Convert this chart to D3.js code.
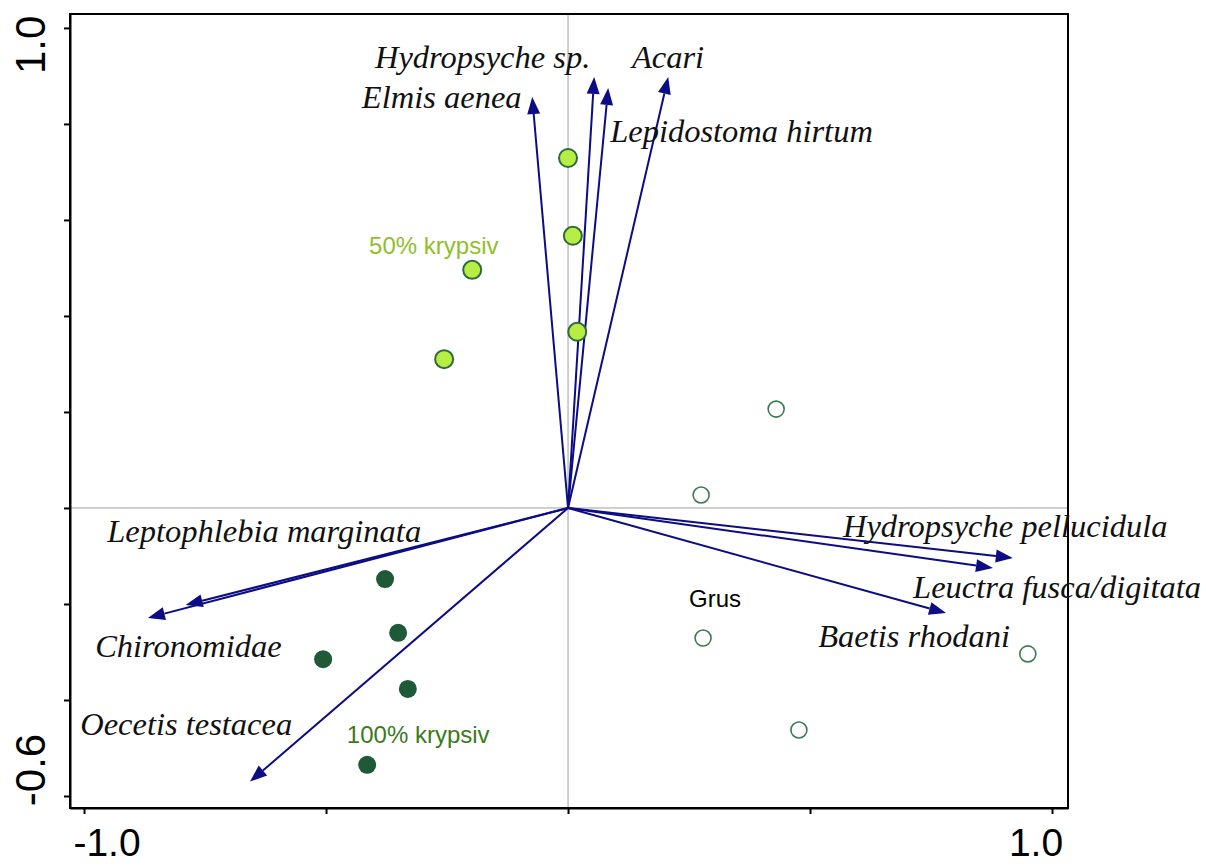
<!DOCTYPE html>
<html>
<head>
<meta charset="utf-8">
<script src="https://cdn.jsdelivr.net/npm/d3@7"></script>
<style>
  body { margin: 0; background: #fff; }
  svg { display: block; }
</style>
</head>
<body>
<div id="chart"></div>
<script>
// Species arrows (biplot scores)
const species = ['Elmis aenea', 'Hydropsyche sp.', 'Lepidostoma hirtum', 'Acari',
  'Hydropsyche pellucidula', 'Leuctra fusca/digitata', 'Baetis rhodani',
  'Leptophlebia marginata', 'Chironomidae', 'Oecetis testacea'];
const speciesX = [-0.074, 0.054, 0.083, 0.207, 0.919, 0.878, 0.781, -0.790, -0.868, -0.657];
const speciesY = [0.856, 0.898, 0.875, 0.898, -0.104, -0.125, -0.219, -0.202, -0.229, -0.570];
// label anchor (text start, baseline) in data units
const labelX = [-0.426, -0.399, 0.087, 0.132, 0.568, 0.713, 0.517, -0.952, -0.977, -1.008];
const labelY = [0.833, 0.917, 0.763, 0.917, -0.060, -0.188, -0.290, -0.071, -0.310, -0.473];

// Sample sites
const site50X = [0.000, 0.010, -0.198, 0.019, -0.256];
const site50Y = [0.729, 0.567, 0.496, 0.367, 0.310];
const site100X = [-0.378, -0.351, -0.506, -0.331, -0.415];
const site100Y = [-0.148, -0.260, -0.315, -0.377, -0.535];
const grusX = [0.430, 0.275, 0.279, 0.950, 0.477];
const grusY = [0.206, 0.027, -0.271, -0.304, -0.4625];

const groupNames = ['50% krypsiv', '100% krypsiv', 'Grus'];
const groupLabelX = [-0.411, -0.457, 0.250];
const groupLabelY = [0.529, -0.490, -0.206];

const xTicks = [-1.0, -0.5, 0, 0.5, 1.0];
const yTicks = [-0.6, -0.4, -0.2, 0, 0.2, 0.4, 0.6, 0.8, 1.0];
const xTickLabels = ['-1.0', '1.0'];
const yTickLabels = ['1.0', '-0.6'];

const width = 1206;
const height = 866;

const svg = d3.select('#chart').append('svg')
  .attr('width', width)
  .attr('height', height);

const x = d3.scaleLinear().domain([-1.029, 1.033]).range([70, 1068]);
const y = d3.scaleLinear().domain([-0.625, 1.029]).range([808, 14]);

// zero lines
svg.append('line')
  .attr('x1', x(0)).attr('x2', x(0)).attr('y1', y.range()[1]).attr('y2', y.range()[0])
  .attr('stroke', '#a0a0a0').attr('stroke-width', 1);
svg.append('line')
  .attr('x1', x.range()[0]).attr('x2', x.range()[1]).attr('y1', y(0)).attr('y2', y(0))
  .attr('stroke', '#a0a0a0').attr('stroke-width', 1);

// axes (ticks only)
const xAxis = d3.axisBottom(x).tickValues(xTicks).tickFormat('').tickSize(6).tickSizeOuter(0);
const yAxis = d3.axisLeft(y).tickValues(yTicks).tickFormat('').tickSize(6).tickSizeOuter(0);
svg.append('g').attr('transform', `translate(0, ${y.range()[0]})`).call(xAxis)
  .call((g) => g.selectAll('line, path').attr('stroke', '#000').attr('stroke-width', 2));
svg.append('g').attr('transform', `translate(${x.range()[0]}, 0)`).call(yAxis)
  .call((g) => g.selectAll('line, path').attr('stroke', '#000').attr('stroke-width', 2));

// frame
svg.append('rect')
  .attr('x', x.range()[0]).attr('y', y.range()[1])
  .attr('width', x.range()[1] - x.range()[0])
  .attr('height', y.range()[0] - y.range()[1])
  .attr('fill', 'none').attr('stroke', '#000').attr('stroke-width', 2);

// tick labels
const tickFont = 'Liberation Sans, Arial, sans-serif';
svg.selectAll('.xlab').data(xTickLabels).enter().append('text')
  .attr('x', (d, i) => x(+d) + (i === 0 ? 23 : -16))
  .attr('y', 856)
  .attr('text-anchor', 'middle')
  .attr('font-family', tickFont)
  .attr('font-size', 39)
  .attr('fill', '#000')
  .text((d) => d);
svg.selectAll('.ylab').data(yTickLabels).enter().append('text')
  .attr('transform', (d, i) => `translate(45, ${y(+d) + (i === 0 ? 17 : -26)}) rotate(-90)`)
  .attr('text-anchor', 'middle')
  .attr('font-family', tickFont)
  .attr('font-size', 42)
  .attr('fill', '#000')
  .text((d) => d);

// arrows
const arrowColor = '#0c0c84';
const arrows = svg.append('g');
species.forEach((name, i) => {
  const x0 = x(0); const y0 = y(0);
  const x1 = x(speciesX[i]); const y1 = y(speciesY[i]);
  const ang = Math.atan2(y1 - y0, x1 - x0);
  const len = 17; const half = 6.5;
  const bx = x1 - len * Math.cos(ang); const by = y1 - len * Math.sin(ang);
  arrows.append('line')
    .attr('x1', x0).attr('y1', y0).attr('x2', bx).attr('y2', by)
    .attr('stroke', arrowColor).attr('stroke-width', 2);
  arrows.append('path')
    .attr('d', `M${x1},${y1}L${bx + half * Math.sin(ang)},${by - half * Math.cos(ang)}`
      + `L${bx - half * Math.sin(ang)},${by + half * Math.cos(ang)}Z`)
    .attr('fill', arrowColor);
});

// species labels
svg.selectAll('.sp').data(species).enter().append('text')
  .attr('x', (d, i) => x(labelX[i]))
  .attr('y', (d, i) => y(labelY[i]))
  .attr('font-family', 'Liberation Serif, Times New Roman, serif')
  .attr('font-style', 'italic')
  .attr('font-size', 32.5)
  .attr('fill', '#111')
  .text((d) => d);

// sites
const r = 9;
svg.selectAll('.s50').data(site50X).enter().append('circle')
  .attr('cx', (d) => x(d)).attr('cy', (d, i) => y(site50Y[i])).attr('r', r)
  .attr('fill', '#b6ee44').attr('stroke', '#2f6a3c').attr('stroke-width', 2);
svg.selectAll('.s100').data(site100X).enter().append('circle')
  .attr('cx', (d) => x(d)).attr('cy', (d, i) => y(site100Y[i])).attr('r', r)
  .attr('fill', '#1e5a37');
svg.selectAll('.sgrus').data(grusX).enter().append('circle')
  .attr('cx', (d) => x(d)).attr('cy', (d, i) => y(grusY[i])).attr('r', r - 1)
  .attr('fill', '#fff').attr('stroke', '#3e7a55').attr('stroke-width', 1.6);

// group labels
const groupColors = ['#8fc02a', '#3b7a18', '#000'];
svg.selectAll('.glab').data(groupNames).enter().append('text')
  .attr('x', (d, i) => x(groupLabelX[i]))
  .attr('y', (d, i) => y(groupLabelY[i]))
  .attr('font-family', tickFont)
  .attr('font-size', 24)
  .attr('fill', (d, i) => groupColors[i])
  .text((d) => d);
</script>
</body>
</html>
